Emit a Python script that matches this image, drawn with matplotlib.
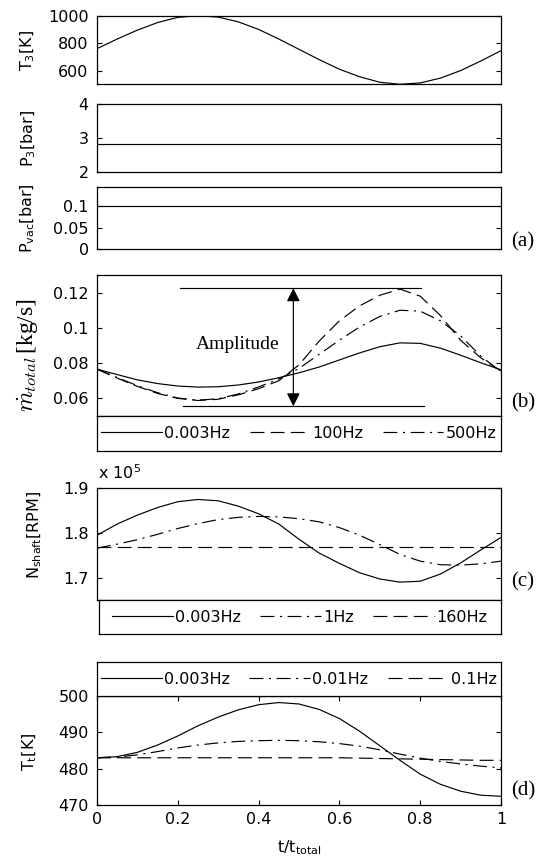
import numpy as np
import matplotlib
matplotlib.use("Agg")
import matplotlib.pyplot as plt

plt.rcParams['font.family'] = ['DejaVu Sans']
plt.rcParams['mathtext.default'] = 'regular'
plt.rcParams['lines.scale_dashes'] = False

# ---------------- data ----------------
t = [0.00, 0.05, 0.10, 0.15, 0.20, 0.25, 0.30, 0.35, 0.40, 0.45, 0.50,
     0.55, 0.60, 0.65, 0.70, 0.75, 0.80, 0.85, 0.90, 0.95, 1.00]

T3 = [760, 830, 895, 950, 988, 1000, 990, 955, 900, 830, 755,
      680, 610, 555, 515, 500, 510, 545, 600, 670, 745]
P3 = [2.82] * 21
Pvac = [0.1] * 21

mdot_labels = ['0.003Hz', '100Hz', '500Hz']
mdot_0003 = [0.0766, 0.0735, 0.0705, 0.0684, 0.0670, 0.0664, 0.0666, 0.0676, 0.0693, 0.0717, 0.0745,
             0.0778, 0.0818, 0.0858, 0.0893, 0.0915, 0.0912, 0.0885, 0.0845, 0.0802, 0.0762]
mdot_100 = [0.0766, 0.0715, 0.0668, 0.0628, 0.0600, 0.0588, 0.0595, 0.0620, 0.0655, 0.0700, 0.0790,
            0.0925, 0.1040, 0.1125, 0.1185, 0.1220, 0.1180, 0.1070, 0.0930, 0.0830, 0.0755]
mdot_500 = [0.0766, 0.0718, 0.0672, 0.0632, 0.0602, 0.0590, 0.0598, 0.0625, 0.0665, 0.0710, 0.0770,
            0.0850, 0.0930, 0.1005, 0.1065, 0.1100, 0.1095, 0.1040, 0.0955, 0.0840, 0.0750]
amp_top, amp_bottom = 0.1225, 0.0555
amp_top_x = [0.205, 0.802]
amp_bottom_x = [0.213, 0.810]
amp_arrow_x = 0.486

nshaft_labels = ['0.003Hz', '1Hz', '160Hz']
nshaft_0003 = [1.795, 1.820, 1.840, 1.857, 1.870, 1.875, 1.872, 1.860, 1.843, 1.820, 1.786,
               1.755, 1.732, 1.711, 1.697, 1.690, 1.692, 1.708, 1.733, 1.762, 1.790]
nshaft_1 = [1.766, 1.775, 1.785, 1.797, 1.810, 1.821, 1.830, 1.835, 1.837, 1.836, 1.832,
            1.825, 1.812, 1.795, 1.774, 1.752, 1.737, 1.729, 1.728, 1.731, 1.737]
nshaft_160 = [1.768] * 21

tt_labels = ['0.003Hz', '0.01Hz', '0.1Hz']
tt_0003 = [483.0, 483.3, 484.5, 486.5, 489.0, 491.8, 494.2, 496.2, 497.6, 498.2, 497.8,
           496.3, 493.8, 490.3, 486.3, 482.3, 478.5, 475.7, 473.8, 472.7, 472.4]
tt_001 = [483.0, 483.2, 483.8, 484.7, 485.7, 486.5, 487.1, 487.5, 487.7, 487.8, 487.7,
          487.4, 486.9, 486.2, 485.2, 484.0, 482.9, 482.0, 481.3, 480.7, 480.2]
tt_01 = [483.0, 483.0, 483.0, 483.0, 483.0, 483.0, 483.0, 483.0, 483.0, 483.0, 483.0,
         483.0, 483.0, 482.9, 482.8, 482.7, 482.6, 482.5, 482.4, 482.3, 482.3]

# ---------------- layout ----------------
W, H = 544, 861
fig = plt.figure(figsize=(W / 100, H / 100), dpi=100)
L, R = 97, 501
FS = 11.5
LW = 0.85
DASH = (0, (10, 4.5))
DASHDOT = (0, (10, 4, 1.5, 4))


def add_ax(top, bottom, left=L, right=R):
    return fig.add_axes([left / W, 1 - bottom / H, (right - left) / W, (bottom - top) / H])


def style(ax, yticks, ylabels, ylim, xt=False):
    ax.set_xlim(0, 1)
    ax.set_ylim(*ylim)
    ax.set_yticks(yticks)
    ax.set_yticklabels(ylabels, fontsize=FS)
    ax.tick_params(axis='y', direction='in', left=True, right=True, length=3.5,
                   width=0.8, pad=6)
    if xt:
        ax.tick_params(axis='x', direction='in', bottom=True, top=True, length=3.5,
                       width=0.8, pad=5, labelsize=FS)
    else:
        ax.tick_params(axis='x', bottom=False, top=False, labelbottom=False)
    for s in ax.spines.values():
        s.set_linewidth(0.9)


def legend_box(top, bottom, handles, labels, left=L):
    lax = add_ax(top, bottom, left=left)
    lax.set_xticks([])
    lax.set_yticks([])
    for s in lax.spines.values():
        s.set_linewidth(0.9)
    lax.legend(handles, labels, loc='center', ncol=3, frameon=False, fontsize=FS,
               handlelength=3.8, handletextpad=0.15, columnspacing=1.2,
               borderaxespad=0, borderpad=0)
    return lax


def ylab(text, x, y, **kw):
    fig.text(x / W, 1 - y / H, text, rotation=90, ha='center', va='center', **kw)


# Panel 1: T3
ax1 = add_ax(15.7, 84.3)
ax1.plot(t, T3, color='k', lw=LW)
style(ax1, [600, 800, 1000], ['600', '800', '1000'], (500, 1000))
ylab('T$_3$[K]', 28, 50, fontsize=FS)

# Panel 2: P3
ax2 = add_ax(104.3, 171.7)
ax2.plot(t, P3, color='k', lw=LW)
style(ax2, [2, 3, 4], ['2', '3', '4'], (2, 4))
ylab('P$_3$[bar]', 29, 138, fontsize=FS)

# Panel 3: Pvac
ax3 = add_ax(186.7, 249)
ax3.plot(t, Pvac, color='k', lw=LW)
style(ax3, [0, 0.05, 0.1], ['0', '0.05', '0.1'], (0, 0.145))
ylab('P$_{vac}$[bar]', 28, 218, fontsize=FS)

# Panel 4: mdot
ax4 = add_ax(275, 416)
h1, = ax4.plot(t, mdot_0003, color='k', lw=LW, linestyle='-')
h2, = ax4.plot(t, mdot_100, color='k', lw=LW, linestyle=DASH)
h3, = ax4.plot(t, mdot_500, color='k', lw=LW, linestyle=DASHDOT)
ax4.plot(amp_top_x, [amp_top, amp_top], color='k', lw=LW)
ax4.plot(amp_bottom_x, [amp_bottom, amp_bottom], color='k', lw=LW)
ax4.annotate('', xy=(amp_arrow_x, amp_top), xytext=(amp_arrow_x, amp_bottom),
             arrowprops=dict(arrowstyle='<|-|>', color='k', lw=LW, mutation_scale=20,
                             shrinkA=0, shrinkB=0))
ax4.text(0.245, 0.0905, 'Amplitude', family='Liberation Serif', fontsize=14,
         ha='left', va='center')
style(ax4, [0.06, 0.08, 0.1, 0.12], ['0.06', '0.08', '0.1', '0.12'], (0.05, 0.13))
legend_box(416, 450.7, [h1, h2, h3], mdot_labels)
ylab(r'$\dot{\mathit{m}}_{\mathit{total}}\,$[kg/s]', 28, 355, fontsize=17,
     family='Liberation Serif', math_fontfamily='cm')

# Panel 5: N shaft
ax5 = add_ax(488.3, 600)
g1, = ax5.plot(t, nshaft_0003, color='k', lw=LW, linestyle='-')
g2, = ax5.plot(t, nshaft_1, color='k', lw=LW, linestyle=DASHDOT)
g3, = ax5.plot(t, nshaft_160, color='k', lw=LW, linestyle=DASH)
style(ax5, [1.7, 1.8, 1.9], ['1.7', '1.8', '1.9'], (1.65, 1.9))
legend_box(600, 634, [g1, g2, g3], nshaft_labels, left=98.5)
fig.text(98 / W, 1 - 473 / H, 'x 10$^5$', fontsize=FS, ha='left', va='center')
ylab('N$_{shaft}$[RPM]', 35, 535, fontsize=FS)

# Panel 6: Tt
ax6 = add_ax(696, 805)
k1, = ax6.plot(t, tt_0003, color='k', lw=LW, linestyle='-')
k2, = ax6.plot(t, tt_001, color='k', lw=LW, linestyle=DASHDOT)
k3, = ax6.plot(t, tt_01, color='k', lw=LW, linestyle=DASH)
style(ax6, [470, 480, 490, 500], ['470', '480', '490', '500'], (470, 500), xt=True)
ax6.set_xticks([0, 0.2, 0.4, 0.6, 0.8, 1.0])
ax6.set_xticklabels(['0', '0.2', '0.4', '0.6', '0.8', '1'], fontsize=FS)
legend_box(662, 696, [k1, k2, k3], tt_labels)
ylab('T$_t$[K]', 30, 752, fontsize=FS)
fig.text(299 / W, 1 - 848 / H, 't/t$_{total}$', fontsize=FS, ha='center', va='center')

# panel tags
for tag, y in [('(a)', 242), ('(b)', 403), ('(c)', 582), ('(d)', 791)]:
    fig.text(511 / W, 1 - y / H, tag, family='Liberation Serif', fontsize=15,
             ha='left', va='center')

fig.savefig('out.png', dpi=100)
